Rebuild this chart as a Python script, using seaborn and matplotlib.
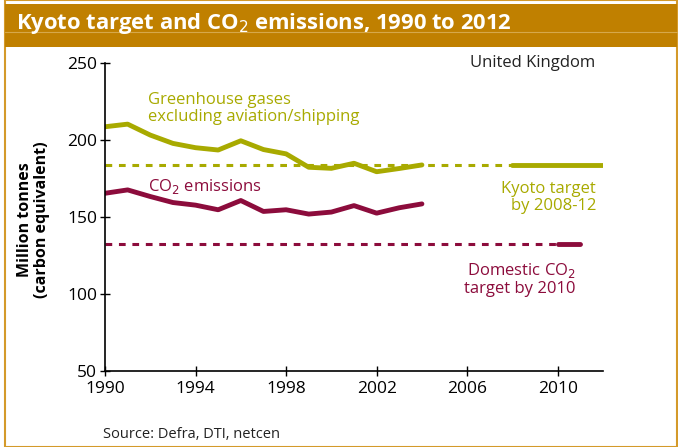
import matplotlib
matplotlib.use("Agg")
import matplotlib.pyplot as plt
import seaborn as sns
import pandas as pd
from matplotlib.patches import Rectangle
from matplotlib.lines import Line2D

years = [1990, 1991, 1992, 1993, 1994, 1995, 1996, 1997, 1998, 1999, 2000, 2001, 2002, 2003, 2004]
ghg = [208.6, 210.3, 203.2, 197.8, 195.0, 193.5, 199.5, 193.8, 191.0, 182.3, 181.6, 184.9, 179.4, 181.5, 183.8]
co2 = [165.4, 167.6, 163.3, 159.4, 157.7, 154.7, 160.7, 153.6, 154.7, 151.9, 153.2, 157.4, 152.5, 156.0, 158.5]
kyoto_target = 183.8
kyoto_years = [2008, 2012]
domestic_target = 132.4
domestic_years = [2010, 2011]
xticks = [1990, 1994, 1998, 2002, 2006, 2010]
yticks = [50, 100, 150, 200, 250]

OLIVE = "#A8AA00"
RED = "#8C0C3C"
GOLD = "#C08000"

sns.set_theme(style="white")
plt.rcParams['font.family'] = ['Open Sans', 'DejaVu Sans']

fig = plt.figure(figsize=(6.78, 4.47), dpi=100)
ax = fig.add_axes([105/678, 1-371/447, (603-105)/678, (371-63)/447])

df = pd.DataFrame({"year": years, "ghg": ghg, "co2": co2})
sns.lineplot(data=df, x="year", y="ghg", ax=ax, color=OLIVE, lw=3.5)
sns.lineplot(data=df, x="year", y="co2", ax=ax, color=RED, lw=3.5)

# target lines
sns.lineplot(x=[1990, kyoto_years[0]], y=[kyoto_target]*2, ax=ax, color=OLIVE, lw=2.2, linestyle=(0, (2.2, 2.2)))
sns.lineplot(x=kyoto_years, y=[kyoto_target]*2, ax=ax, color=OLIVE, lw=3.5)
sns.lineplot(x=[1990, domestic_years[0]], y=[domestic_target]*2, ax=ax, color=RED, lw=2.2, linestyle=(0, (2.2, 2.2)))
sns.lineplot(x=domestic_years, y=[domestic_target]*2, ax=ax, color=RED, lw=3.5)

ax.set_xlim(1990, 2012)
ax.set_ylim(50, 250)
ax.set_xticks(xticks)
ax.set_yticks(yticks)
ax.set_xticklabels([str(t) for t in xticks])
ax.set_yticklabels([str(t) for t in yticks])
for s in ["top", "right"]:
    ax.spines[s].set_visible(False)
for s in ["left", "bottom"]:
    ax.spines[s].set_color("black")
    ax.spines[s].set_linewidth(1.2)
ax.tick_params(axis="both", which="major", direction="inout", length=7, width=1.0,
               colors="black", labelsize=12.5, pad=2, left=True, bottom=True)
ax.tick_params(axis="x", pad=4)
ax.set_xlabel("")
ax.set_ylabel("Million tonnes\n(carbon equivalent)", fontsize=11.5, fontweight="bold",
              color="black", linespacing=1.1)
ax.yaxis.set_label_coords(-0.11, 0.49)

ax.text(0.985, 1.0, "United Kingdom", transform=ax.transAxes, ha="right", va="center",
        fontsize=12, color="#222222")
ax.text(1991.9, 231, "Greenhouse gases\nexcluding aviation/shipping", color=OLIVE,
        fontsize=12, va="top", linespacing=1.1)
ax.text(1991.9, 170, "CO$_2$ emissions", color=RED, fontsize=12, va="center")
ax.text(2011.7, 173.5, "Kyoto target\nby 2008-12", color=OLIVE, fontsize=12, ha="right",
        va="top", linespacing=1.1)
ax.text(2010.8, 121.5, "Domestic CO$_2$\ntarget by 2010", color=RED, fontsize=12, ha="right",
        va="top", linespacing=1.1)

# Title bar and frame
fig.patches.append(Rectangle((5/678, 0), (677-5)/678, 1, transform=fig.transFigure,
                             fill=False, edgecolor="#D49A2A", lw=1.5, zorder=0))
fig.patches.append(Rectangle((5/678, 1-47/447), (677-5)/678, 43/447, transform=fig.transFigure,
                             facecolor=GOLD, edgecolor="none", zorder=1))
fig.lines.append(Line2D([5/678, 677/678], [1-31.5/447, 1-31.5/447], transform=fig.transFigure,
                        color="#D6A84A", lw=0.8, zorder=2))
fig.text(16/678, 1-24/447, "Kyoto target and CO$_2$ emissions, 1990 to 2012", color="white",
         fontsize=15.8, fontweight="bold", va="center", ha="left", zorder=3)
fig.text(103/678, 1-435/447, "Source: Defra, DTI, netcen", fontsize=10.5, color="#222222",
         va="center", ha="left")

fig.savefig("out.png", dpi=100)
